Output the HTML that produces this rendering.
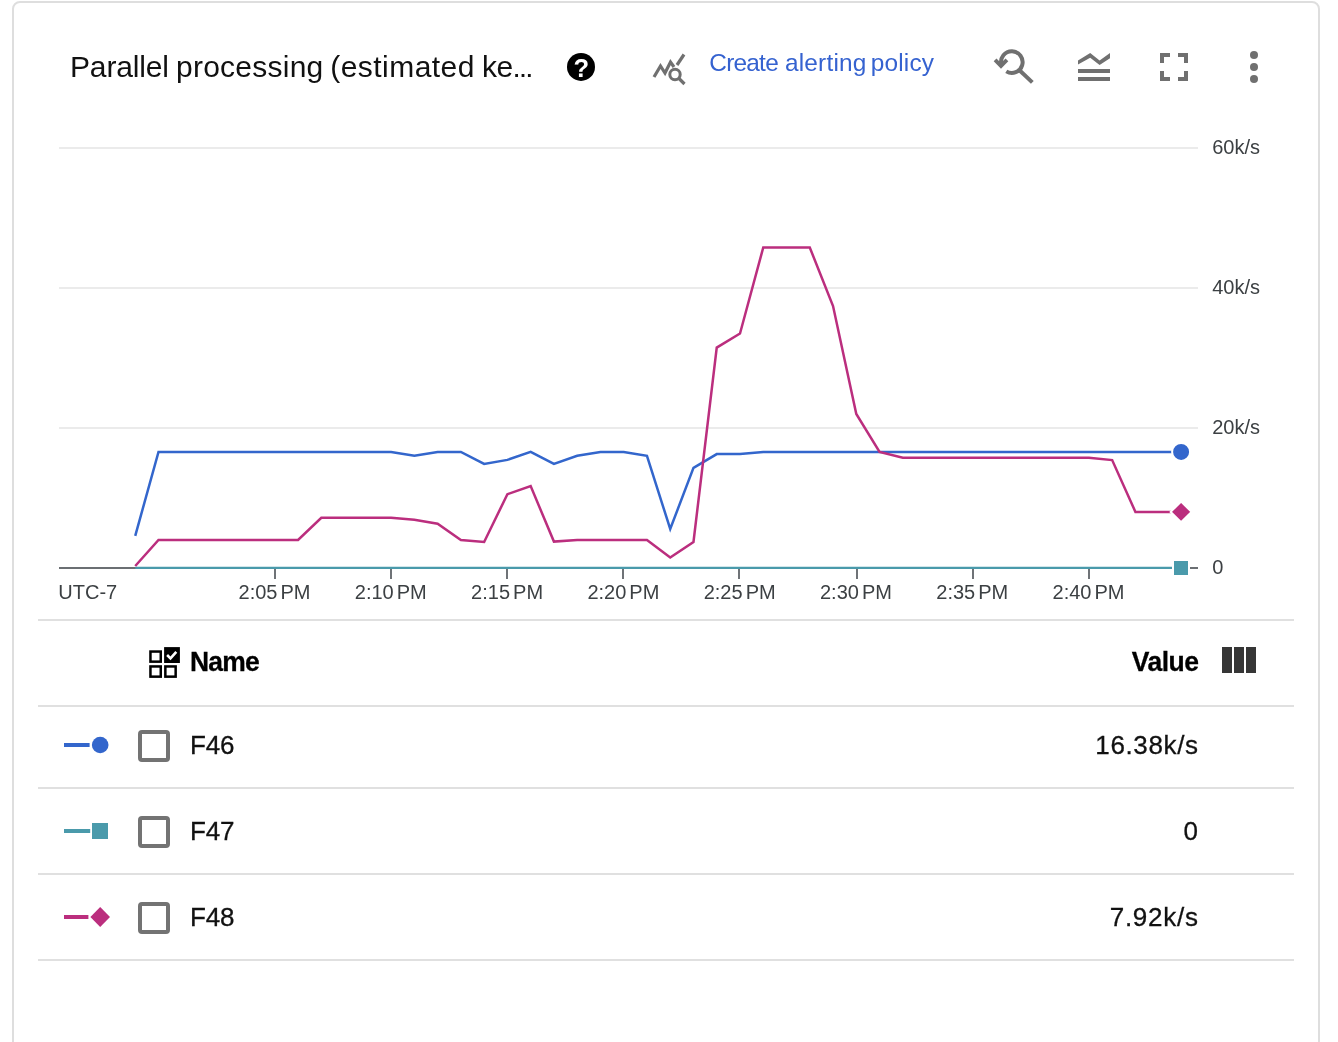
<!DOCTYPE html>
<html lang="en"><head><meta charset="utf-8"><title>Parallel processing</title>
<style>
html,body{margin:0;padding:0;background:#fff;}
body{width:1338px;height:1042px;overflow:hidden;position:relative;font-family:"Liberation Sans",Arial,sans-serif;color:#000;}
.card{position:absolute;left:12px;top:1px;width:1304px;height:1100px;border:2px solid #dedede;border-radius:8px;background:#fff;}
.abs{position:absolute;white-space:nowrap;}
.w{position:absolute;top:0;white-space:pre;}
.title{font-size:30px;line-height:40px;color:#111;}
.link{font-size:24.4px;line-height:30px;color:#3562d0;}
svg{position:absolute;left:0;top:0;overflow:visible;}
.ax{font-family:"Liberation Sans",Arial,sans-serif;font-size:20px;fill:#3c4043;}
.hline{position:absolute;left:38px;width:1256px;height:2px;background:#e0e0e0;}
.hd{font-weight:bold;font-size:28px;line-height:30px;color:#000;-webkit-text-stroke:0.3px #000;transform:scaleX(0.945);}
.cell{-webkit-text-stroke:0.3px #111;font-size:26px;line-height:30px;color:#111;}
.cb{position:absolute;left:138px;width:24px;height:24px;border:4px solid #737373;border-radius:4px;}
</style></head><body>
<div class="card"></div>
<div class="abs title" style="left:0;top:46.5px;width:560px;height:40px"><span class="w" style="left:70px;letter-spacing:-0.157px">Parallel</span><span class="w" style="left:160px"> </span><span class="w" style="left:176px;letter-spacing:0.244px">processing</span><span class="w" style="left:322px"> </span><span class="w" style="left:330.2px;letter-spacing:0.467px">(estimated</span><span class="w" style="left:474px"> </span><span class="w" style="left:481.9px;letter-spacing:-0.3px">ke</span><span class="w" style="left:513px;top:3.2px;font-size:20px;font-weight:bold">…</span></div>
<div class="abs link" style="left:0;top:48px;width:960px;height:30px"><span class="w" style="left:709.3px;letter-spacing:-0.76px">Create</span><span class="w" style="left:778px"> </span><span class="w" style="left:784.9px;letter-spacing:0.214px">alerting</span><span class="w" style="left:865px"> </span><span class="w" style="left:870.8px;letter-spacing:0.16px">policy</span></div>

<svg width="1338" height="1042" viewBox="0 0 1338 1042">
<!-- help icon -->
<circle cx="581" cy="66.9" r="14" fill="#000"/>
<text x="581.2" y="76.5" text-anchor="middle" font-family="Liberation Sans, Arial, sans-serif" font-weight="bold" font-size="25.5" fill="#fff">?</text>
<!-- alerting icon -->
<g fill="none" stroke="#707070" stroke-width="3.2" stroke-linejoin="miter">
<polyline points="654,77 660.5,66 665,73 670.5,62 674,67"/>
<line x1="677" y1="65" x2="684" y2="54.5"/>
<circle cx="675" cy="74.5" r="5.2" stroke-width="3"/>
<line x1="679" y1="78.5" x2="684.5" y2="84"/>
</g>
<!-- zoom reset icon -->
<g fill="none" stroke="#707070">
<path d="M1001.3 64.6 A10.8 10.8 0 1 1 1006.3 71.4" stroke-width="4"/>
<line x1="1019.5" y1="70.3" x2="1032.3" y2="82.4" stroke-width="4"/>
</g>
<polygon points="993.7,61.3 996.5,58.5 1001,63 1005.5,58.5 1008.3,61.3 1001,68.7" fill="#707070"/>
<!-- legend toggle icon -->
<g fill="#707070">
<polygon points="1078,60.4 1090.2,53 1099.6,60.4 1110,53 1110,58.2 1099.6,64.9 1090.2,57.8 1078,64.6"/>
<rect x="1078" y="69" width="32" height="4"/>
<rect x="1078" y="77" width="32" height="4"/>
</g>
<!-- fullscreen icon -->
<g fill="#707070">
<path d="M1160 53h10v4h-6v6h-4z"/>
<path d="M1188 53v10h-4v-6h-6v-4z"/>
<path d="M1160 81v-10h4v6h6v4z"/>
<path d="M1188 81h-10v-4h6v-6h4z"/>
</g>
<!-- more vert -->
<g fill="#707070"><circle cx="1254" cy="55" r="4"/><circle cx="1254" cy="67" r="4"/><circle cx="1254" cy="79" r="4"/></g>

<!-- gridlines -->
<g fill="#ebebeb">
<rect x="59" y="147" width="1139" height="2"/>
<rect x="59" y="287" width="1139" height="2"/>
<rect x="59" y="427" width="1139" height="2"/>
</g>
<rect x="59" y="567" width="1139" height="2" fill="#6b6f73"/>
<text x="1212.2" y="153.6" class="ax">60k/s</text>
<text x="1212.2" y="293.6" class="ax">40k/s</text>
<text x="1212.2" y="433.6" class="ax">20k/s</text>
<text x="1212.2" y="573.6" class="ax">0</text>
<text x="58.3" y="599" class="ax">UTC-7</text>
<rect x="274" y="568" width="2" height="11" fill="#6f7377"/><text x="274.50" y="599" text-anchor="middle" class="ax">2:05<tspan dx="3">PM</tspan></text>
<rect x="390" y="568" width="2" height="11" fill="#6f7377"/><text x="390.79" y="599" text-anchor="middle" class="ax">2:10<tspan dx="3">PM</tspan></text>
<rect x="506" y="568" width="2" height="11" fill="#6f7377"/><text x="507.08" y="599" text-anchor="middle" class="ax">2:15<tspan dx="3">PM</tspan></text>
<rect x="622" y="568" width="2" height="11" fill="#6f7377"/><text x="623.37" y="599" text-anchor="middle" class="ax">2:20<tspan dx="3">PM</tspan></text>
<rect x="738" y="568" width="2" height="11" fill="#6f7377"/><text x="739.66" y="599" text-anchor="middle" class="ax">2:25<tspan dx="3">PM</tspan></text>
<rect x="856" y="568" width="2" height="11" fill="#6f7377"/><text x="855.95" y="599" text-anchor="middle" class="ax">2:30<tspan dx="3">PM</tspan></text>
<rect x="972" y="568" width="2" height="11" fill="#6f7377"/><text x="972.24" y="599" text-anchor="middle" class="ax">2:35<tspan dx="3">PM</tspan></text>
<rect x="1088" y="568" width="2" height="11" fill="#6f7377"/><text x="1088.53" y="599" text-anchor="middle" class="ax">2:40<tspan dx="3">PM</tspan></text>

<!-- series -->
<polyline points="135.24,567.9 1181.94,567.9" fill="none" stroke="#4a9aab" stroke-width="2.2"/>
<polyline points="135.24,535.8 158.5,451.9 181.76,451.9 205.02,451.9 228.28,451.9 251.54,451.9 274.8,451.9 298.06,451.9 321.32,451.9 344.58,451.9 367.84,451.9 391.1,451.9 414.36,455.8 437.62,451.9 460.88,451.9 484.14,463.9 507.4,459.9 530.66,451.9 553.92,463.9 577.18,455.8 600.44,451.9 623.7,451.9 646.96,455.8 670.22,529.0 693.48,467.9 716.74,454.1 740.0,454.1 763.26,451.9 786.52,451.9 809.78,451.9 833.04,451.9 856.3,451.9 879.56,451.9 902.82,451.9 926.08,451.9 949.34,451.9 972.6,451.9 995.86,451.9 1019.12,451.9 1042.38,451.9 1065.64,451.9 1088.9,451.9 1112.16,451.9 1135.42,451.9 1158.68,451.9 1181.94,451.9" fill="none" stroke="#3366cc" stroke-width="2.5" stroke-linejoin="miter"/>
<polyline points="135.24,566.0 158.5,540.0 181.76,540.0 205.02,540.0 228.28,540.0 251.54,540.0 274.8,540.0 298.06,540.0 321.32,517.8 344.58,517.8 367.84,517.8 391.1,517.8 414.36,519.8 437.62,523.8 460.88,540.0 484.14,542.0 507.4,494.2 530.66,486.1 553.92,541.6 577.18,540 600.44,540 623.7,540 646.96,540 670.22,557.5 693.48,542.0 716.74,347.6 740.0,333.5 763.26,247.5 786.52,247.5 809.78,247.5 833.04,306.0 856.3,414.0 879.56,451.9 902.82,457.8 926.08,457.8 949.34,457.8 972.6,457.8 995.86,457.8 1019.12,457.8 1042.38,457.8 1065.64,457.8 1088.9,457.8 1112.16,460.1 1135.42,511.9 1158.68,511.9 1181.94,511.9" fill="none" stroke="#bb2e7e" stroke-width="2.5" stroke-linejoin="miter"/>
<circle cx="1181.1" cy="451.9" r="9" fill="#3366cc" stroke="#fff" stroke-width="2"/>
<rect x="1173" y="560" width="16" height="16" fill="#4a9aab" stroke="#fff" stroke-width="2"/>
<polygon points="1181.1,501.5 1191.5,511.9 1181.1,522.3 1170.7,511.9" fill="#bb2e7e" stroke="#fff" stroke-width="2"/>

<!-- legend header icon -->
<g fill="none" stroke="#000" stroke-width="2.5">
<rect x="150.45" y="651.55" width="10.3" height="10.1"/>
<rect x="150.45" y="666.45" width="10.3" height="10.2"/>
<rect x="165.35" y="666.45" width="10.3" height="10.2"/>
</g>
<rect x="164.1" y="647.1" width="15.8" height="15.9" fill="#000"/>
<polyline points="167.1,655 170.5,658.4 176.3,651.9" fill="none" stroke="#fff" stroke-width="2.6"/>
<!-- columns icon -->
<g fill="#363636"><rect x="1222" y="647" width="10" height="26"/><rect x="1234" y="647" width="10" height="26"/><rect x="1246" y="647" width="10" height="26"/></g>

<!-- legend markers -->
<rect x="64" y="743" width="25.6" height="4" fill="#3366cc"/>
<circle cx="100.2" cy="745" r="8.3" fill="#3366cc"/>
<rect x="64" y="829" width="26.2" height="4" fill="#4a9aab"/>
<rect x="92" y="823" width="16" height="16" fill="#4a9aab"/>
<rect x="64" y="915" width="24.4" height="4" fill="#bb2e7e"/>
<polygon points="100.2,907 110,917 100.2,927 90.4,917" fill="#bb2e7e"/>
</svg>

<div class="hline" style="top:619px"></div>
<div class="hline" style="top:705px"></div>
<div class="hline" style="top:787px"></div>
<div class="hline" style="top:873px"></div>
<div class="hline" style="top:959px"></div>

<div class="abs hd" style="left:189.5px;top:646.8px;transform-origin:left;letter-spacing:-0.85px">Name</div>
<div class="abs hd" style="right:139px;top:646.8px;transform-origin:right;letter-spacing:-0.55px;margin-right:0.55px">Value</div>

<div class="cb" style="top:730px"></div>
<div class="cb" style="top:816px"></div>
<div class="cb" style="top:902px"></div>
<div class="abs cell" style="left:190px;letter-spacing:-0.2px;top:730px">F46</div>
<div class="abs cell" style="left:190px;letter-spacing:-0.2px;top:816px">F47</div>
<div class="abs cell" style="left:190px;letter-spacing:-0.2px;top:902px">F48</div>
<div class="abs cell" style="right:140px;top:730px;letter-spacing:0.62px;margin-right:-0.62px">16.38k/s</div>
<div class="abs cell" style="right:140px;top:816px">0</div>
<div class="abs cell" style="right:140px;top:902px;letter-spacing:0.75px;margin-right:-0.75px">7.92k/s</div>
</body></html>
